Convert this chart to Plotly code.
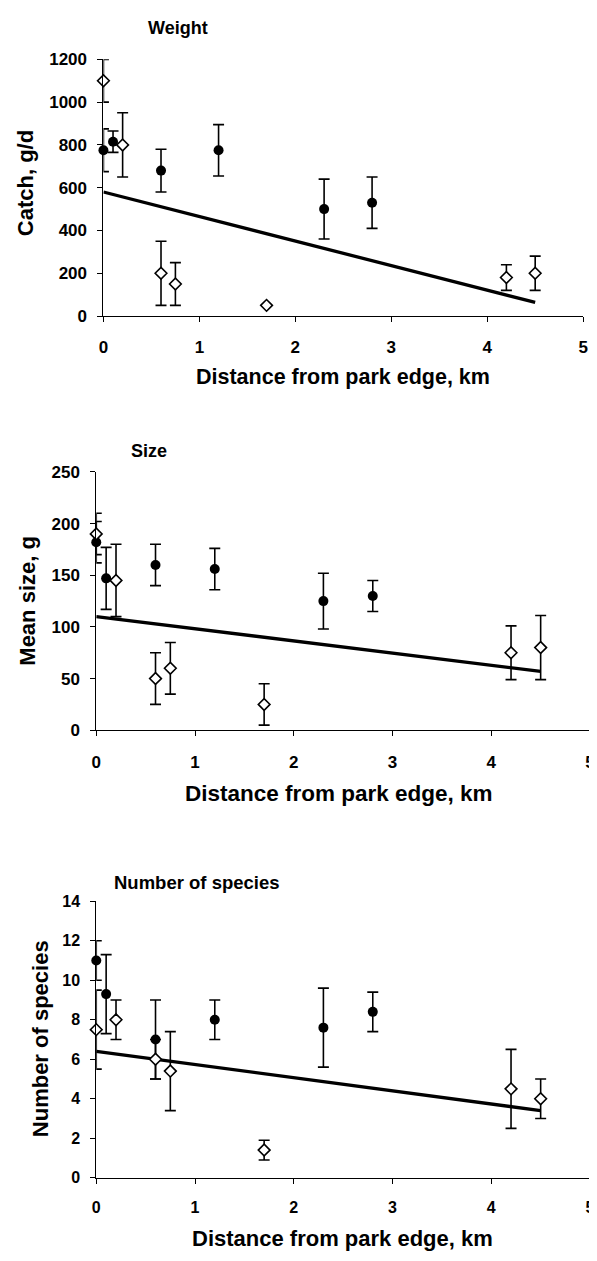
import plotly.graph_objects as go

# ---------------- data ----------------
dist_open = [0, 0.2, 0.6, 0.75, 1.7, 4.2, 4.5]
dist_filled = [0, 0.1, 0.6, 1.2, 2.3, 2.8]
trend_x = [0, 4.5]

weight_open = [1100, 800, 200, 150, 50, 180, 200]
weight_open_err = [100, 150, 150, 100, 0, 60, 80]
weight_filled = [775, 815, 680, 775, 500, 530]
weight_filled_err = [100, 50, 100, 120, 140, 120]
weight_trend = [580, 64]

size_open = [190, 145, 50, 60, 25, 75, 80]
size_open_err = [20, 35, 25, 25, 20, 26, 31]
size_filled = [182, 147, 160, 156, 125, 130]
size_filled_err = [20, 30, 20, 20, 27, 15]
size_trend = [110, 57]

species_open = [7.5, 8, 6, 5.4, 1.4, 4.5, 4.0]
species_open_err = [2, 1, 1, 2, 0.5, 2, 1]
species_filled = [11, 9.3, 7, 8, 7.6, 8.4]
species_filled_err = [1, 2, 2, 1, 2, 1]
species_trend = [6.4, 3.4]

x_ticks = [0, 1, 2, 3, 4, 5]
weight_ticks = [0, 200, 400, 600, 800, 1000, 1200]
size_ticks = [0, 50, 100, 150, 200, 250]
species_ticks = [0, 2, 4, 6, 8, 10, 12, 14]

panel_titles = ["Weight", "Size", "Number of species"]
y_titles = ["Catch, g/d", "Mean size, g", "Number of species"]
x_title = "Distance from park edge, km"

# ---------------- layout geometry ----------------
# the page body has an 8px default margin: figure placed so page pixels match
OFF = 8
W, H = 597 - OFF, 1261 - 2 * OFF
FONT = "Arial, Liberation Sans, sans-serif"


def px(x):
    return (x - OFF) / W


def py(y):
    return 1 - (y - OFF) / H


panels = [
    dict(x0=100, x1=588, ytop=51, ybot=311.7, yr=[0, 1200], ticks=weight_ticks,
         tick=17, xso=11, ttl=18, axt=21.5, yt=22,
         title_xy=(176, 19), ytitle_xy=(21, 177), xtitle_xy=(344, 374)),
    dict(x0=92.7, x1=595, ytop=470, ybot=732.3, yr=[0, 250], ticks=size_ticks,
         tick=17, xso=11, ttl=18, axt=22.5, yt=22,
         title_xy=(146, 449), ytitle_xy=(23, 601), xtitle_xy=(340, 797)),
    dict(x0=92.7, x1=595, ytop=906, ybot=1186.7, yr=[0, 14], ticks=species_ticks,
         tick=16, xso=10, ttl=18.5, axt=22, yt=22,
         title_xy=(195, 887), ytitle_xy=(35.5, 1046), xtitle_xy=(343, 1248)),
]

series = [
    (weight_open, weight_open_err, weight_filled, weight_filled_err, weight_trend),
    (size_open, size_open_err, size_filled, size_filled_err, size_trend),
    (species_open, species_open_err, species_filled, species_filled_err, species_trend),
]

fig = go.Figure()
annotations = []

for i, (p, s) in enumerate(zip(panels, series)):
    n = "" if i == 0 else str(i + 1)
    xa, ya = "x" + n, "y" + n
    o, oe, f, fe, tr = s

    fig.add_trace(go.Scatter(
        x=trend_x, y=tr, mode="lines", xaxis=xa, yaxis=ya,
        line=dict(color="black", width=3.3), cliponaxis=False, showlegend=False))
    fig.add_trace(go.Scatter(
        x=dist_filled, y=f, mode="markers", xaxis=xa, yaxis=ya,
        marker=dict(symbol="circle", size=10, color="black"),
        error_y=dict(type="data", array=fe, visible=True, color="black",
                     thickness=1.6, width=5.5),
        cliponaxis=False, showlegend=False))
    fig.add_trace(go.Scatter(
        x=dist_open, y=o, mode="markers", xaxis=xa, yaxis=ya,
        marker=dict(symbol="diamond", size=9, color="white",
                    line=dict(color="black", width=1.6)),
        error_y=dict(type="data", array=oe, visible=True, color="black",
                     thickness=1.6, width=5.5),
        cliponaxis=False, showlegend=False))

    d0, d1 = px(p["x0"]), px(p["x1"])
    xmax = 5
    if d1 > 1:
        xmax = 5 * (1 - d0) / (d1 - d0)
        d1 = 1

    tf = dict(family=FONT, size=p["tick"], color="black")
    fig.update_layout(**{
        ("xaxis" + n): dict(
            domain=[d0, d1], range=[0, xmax],
            tickvals=x_ticks, ticktext=["<b>%d</b>" % v for v in x_ticks],
            anchor=ya, showline=True, linecolor="black", linewidth=1,
            ticks="outside", ticklen=5, tickcolor="black", tickwidth=1,
            ticklabelstandoff=p["xso"],
            showgrid=False, zeroline=False, tickfont=tf),
        ("yaxis" + n): dict(
            domain=[py(p["ybot"]), py(p["ytop"])], range=p["yr"],
            tickvals=p["ticks"], ticktext=["<b>%d</b>" % v for v in p["ticks"]],
            anchor=xa, showline=True, linecolor="black", linewidth=1,
            ticks="outside", ticklen=5, tickcolor="black", tickwidth=1,
            ticklabelstandoff=7,
            showgrid=False, zeroline=False, tickfont=tf),
    })

    tx, ty = p["title_xy"]
    annotations.append(dict(
        text="<b>%s</b>" % panel_titles[i], x=px(tx), y=py(ty), xref="paper", yref="paper",
        xanchor="center", yanchor="middle", showarrow=False,
        font=dict(family=FONT, size=p["ttl"], color="black")))
    yx, yy = p["ytitle_xy"]
    annotations.append(dict(
        text="<b>%s</b>" % y_titles[i], x=px(yx), y=py(yy), xref="paper", yref="paper",
        xanchor="center", yanchor="middle", showarrow=False, textangle=-90,
        font=dict(family=FONT, size=p["yt"], color="black")))
    xx, xy = p["xtitle_xy"]
    annotations.append(dict(
        text="<b>%s</b>" % x_title, x=px(xx), y=py(xy), xref="paper", yref="paper",
        xanchor="center", yanchor="middle", showarrow=False,
        font=dict(family=FONT, size=p["axt"], color="black")))

fig.update_layout(
    width=W, height=H, margin=dict(l=0, r=0, t=0, b=0),
    paper_bgcolor="white", plot_bgcolor="white",
    annotations=annotations, showlegend=False,
)

fig.write_html("out.html")
